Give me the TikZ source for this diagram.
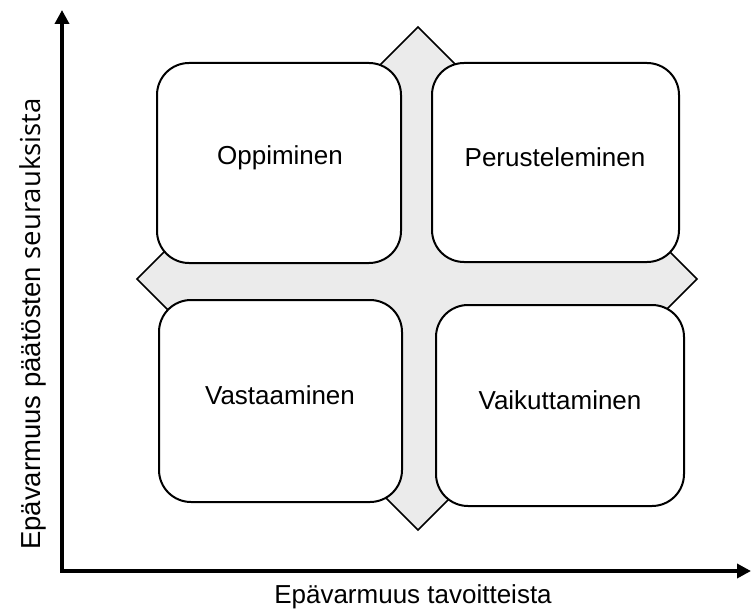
\documentclass[tikz,border=0pt]{standalone}
\usepackage{fontspec}
\setmainfont{Liberation Sans}
\newfontfamily\segoe{Open Sans}
\usetikzlibrary{arrows.meta}
\begin{document}
\begin{tikzpicture}[x=1pt,y=-1pt,
  quad/.style={draw=black,line width=2pt,fill=white,rounded corners=32pt,inner sep=0pt},
  lbl/.style={font=\fontsize{26}{30}\selectfont,inner sep=0pt},
  axis/.style={line width=3.5pt,-{Triangle[length=14pt,width=14pt]}},
  crossfill/.style={draw=black,line width=1.5pt,fill=black!8,line join=miter}]
\useasboundingbox (0,0) rectangle (751,612);
% cross background
\draw[crossfill] (418,27) -- (462,71) -- (462,249) -- (667,249) -- (697,279) -- (667,309)
  -- (462,309) -- (462,486) -- (418,530) -- (374,486) -- (374,309) -- (167,309)
  -- (137,279) -- (167,249) -- (374,249) -- (374,71) -- cycle;
% boxes
\node[quad,minimum width=244pt,minimum height=200pt] (tl) at (279,163) {};
\node[quad,minimum width=247pt,minimum height=199pt] (tr) at (555.5,162.5) {};
\node[quad,minimum width=243pt,minimum height=202pt] (bl) at (280.5,401) {};
\node[quad,minimum width=248pt,minimum height=201pt] (br) at (560,405.5) {};
\node[lbl] (tlt) at (280,158) {Oppiminen};
\node[lbl] (trt) at (555,157) {Perusteleminen};
\node[lbl] (blt) at (280,395) {Vastaaminen};
\node[lbl] (brt) at (560,400) {Vaikuttaminen};
% axes
\coordinate (o) at (62,571);
\coordinate (ytip) at (62,10);
\coordinate (xtip) at (751,571);
\draw[axis] ([xshift=-1.75pt]o) -- (xtip);
\draw[axis] ([yshift=1.75pt]o) -- (ytip);
\node[lbl] (xl) at (413,597) {Epävarmuus tavoitteista};
\node[lbl,font=\fontsize{27.5}{30}\selectfont,rotate=90] (yl) at (33,324) {Epävarmuus päätösten {\segoe seurauksista}};
\end{tikzpicture}
\end{document}
